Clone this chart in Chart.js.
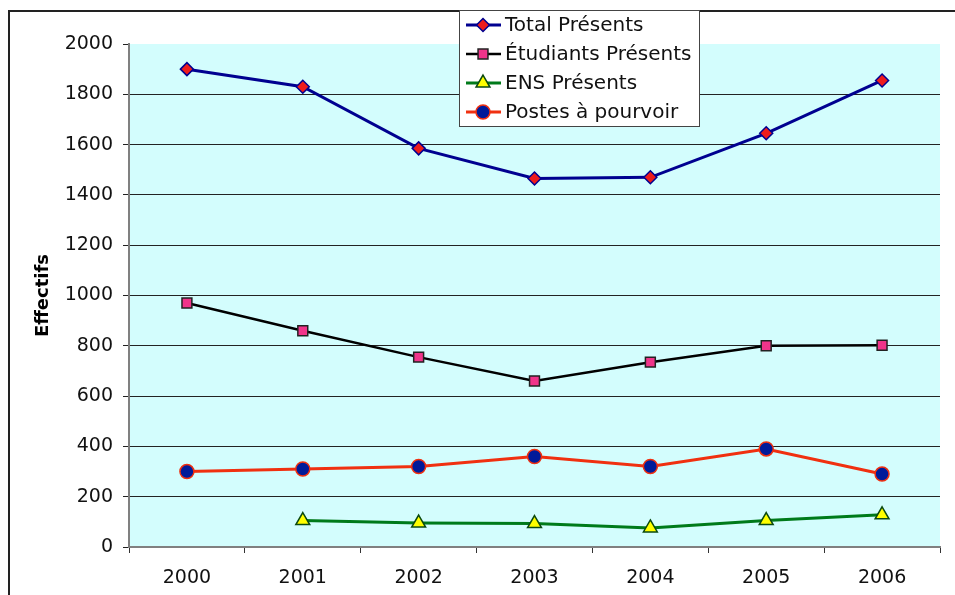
<!DOCTYPE html>
<html>
<head>
<meta charset="utf-8">
<title>Effectifs 2000-2006</title>
<script src="https://cdn.jsdelivr.net/npm/chart.js@4/dist/chart.umd.min.js"></script>
<style>
    html, body { margin: 0; padding: 0; background: #fff; }
    canvas { display: block; }
</style>
</head>
<body>
<canvas id="chart" width="955" height="595"></canvas>
<script>
// Data
const years = ['2000', '2001', '2002', '2003', '2004', '2005', '2006'];
const totalPresents = [1900, 1830, 1585, 1465, 1470, 1645, 1855];
const etudiantsPresents = [970, 860, 755, 660, 735, 800, 802];
const ensPresents = [null, 105, 95, 93, 76, 105, 128];
const postesAPourvoir = [300, 310, 320, 360, 320, 390, 290];
const yTicks = [0, 200, 400, 600, 800, 1000, 1200, 1400, 1600, 1800, 2000];

const FONT = 'DejaVu Sans, Verdana, sans-serif';

// Plot background, outer frame
const backgroundPlugin = {
    id: 'plotBackground',
    beforeDraw(chart) {
        const ctx = chart.ctx;
        const a = chart.chartArea;
        ctx.save();
        ctx.fillStyle = '#d3fdfd';
        ctx.fillRect(a.left, a.top, a.right - a.left, a.bottom - a.top);
        ctx.strokeStyle = '#222';
        ctx.lineWidth = 2;
        ctx.beginPath();
        ctx.moveTo(9, 600);
        ctx.lineTo(9, 11);
        ctx.lineTo(960, 11);
        ctx.stroke();
        ctx.restore();
    }
};

// Legend box drawn over the plot, like the original
const boxLegendPlugin = {
    id: 'boxLegend',
    afterDraw(chart) {
        const ctx = chart.ctx;
        const x0 = 459, y0 = 10, w = 240, h = 116;
        ctx.save();
        ctx.fillStyle = '#fff';
        ctx.fillRect(x0, y0, w, h);
        ctx.strokeStyle = '#444';
        ctx.lineWidth = 1;
        ctx.strokeRect(x0 + 0.5, y0 + 0.5, w, h);
        chart.data.datasets.forEach((ds, i) => {
            const y = 25 + i * 29;
            ctx.strokeStyle = ds.borderColor;
            ctx.lineWidth = ds.borderWidth;
            ctx.beginPath();
            ctx.moveTo(466, y);
            ctx.lineTo(501, y);
            ctx.stroke();
            ctx.fillStyle = ds.pointBackgroundColor;
            ctx.strokeStyle = ds.pointBorderColor;
            ctx.lineWidth = ds.pointBorderWidth;
            Chart.helpers.drawPoint(ctx, {
                pointStyle: ds.pointStyle,
                radius: ds.pointRadius,
                rotation: 0,
                borderWidth: ds.pointBorderWidth
            }, 483, y);
            ctx.fillStyle = '#111';
            ctx.font = '20px ' + FONT;
            ctx.textBaseline = 'middle';
            ctx.textAlign = 'left';
            ctx.fillText(ds.label, 505, y + 1);
        });
        ctx.restore();
    }
};

new Chart(document.getElementById('chart'), {
    type: 'line',
    data: {
        labels: years,
        datasets: [{
            label: 'Total Présents',
            data: totalPresents,
            borderColor: '#000090',
            borderWidth: 3,
            pointStyle: 'rectRot',
            pointRadius: 6.5,
            pointBackgroundColor: '#ee1c1c',
            pointBorderColor: '#000090',
            pointBorderWidth: 1.5
        }, {
            label: 'Étudiants Présents',
            data: etudiantsPresents,
            borderColor: '#000000',
            borderWidth: 2.5,
            pointStyle: 'rect',
            pointRadius: 7,
            pointBackgroundColor: '#f0348a',
            pointBorderColor: '#222',
            pointBorderWidth: 1.5
        }, {
            label: 'ENS Présents',
            data: ensPresents,
            borderColor: '#007a1a',
            borderWidth: 3,
            pointStyle: 'triangle',
            pointRadius: 8,
            pointBackgroundColor: '#ffff00',
            pointBorderColor: '#0b4a10',
            pointBorderWidth: 1.5
        }, {
            label: 'Postes à pourvoir',
            data: postesAPourvoir,
            borderColor: '#f03010',
            borderWidth: 3,
            pointStyle: 'circle',
            pointRadius: 7,
            pointBackgroundColor: '#001a99',
            pointBorderColor: '#f03010',
            pointBorderWidth: 1.5
        }]
    },
    options: {
        responsive: false,
        animation: false,
        spanGaps: false,
        layout: { padding: { left: 0, top: 44, right: 15, bottom: 0 } },
        plugins: {
            legend: { display: false },
            tooltip: { enabled: false }
        },
        scales: {
            x: {
                offset: true,
                grid: {
                    offset: true,
                    drawOnChartArea: false,
                    tickLength: 6,
                    color: '#333',
                    tickColor: '#333'
                },
                border: { color: '#808080', width: 2 },
                ticks: {
                    color: '#111',
                    padding: 14,
                    font: { family: FONT, size: 19 },
                    maxRotation: 0
                },
                afterFit(scale) { scale.height = 48; }
            },
            y: {
                min: 0,
                max: 2000,
                afterBuildTicks(scale) {
                    scale.ticks = yTicks.map(v => ({ value: v }));
                },
                grid: {
                    tickLength: 6,
                    color: ctx => (ctx.tick && ctx.tick.value === 2000) ? 'rgba(0,0,0,0)' : '#222',
                    tickColor: '#222'
                },
                border: { color: '#808080', width: 2 },
                ticks: {
                    color: '#111',
                    padding: 10,
                    font: { family: FONT, size: 19 },
                    callback: v => String(v)
                },
                title: {
                    display: true,
                    text: 'Effectifs',
                    color: '#000',
                    font: { family: FONT, size: 18, weight: 'bold' },
                    padding: { top: 33, bottom: 0 }
                },
                afterFit(scale) { scale.width = 129; }
            }
        }
    },
    plugins: [backgroundPlugin, boxLegendPlugin]
});
</script>
</body>
</html>
